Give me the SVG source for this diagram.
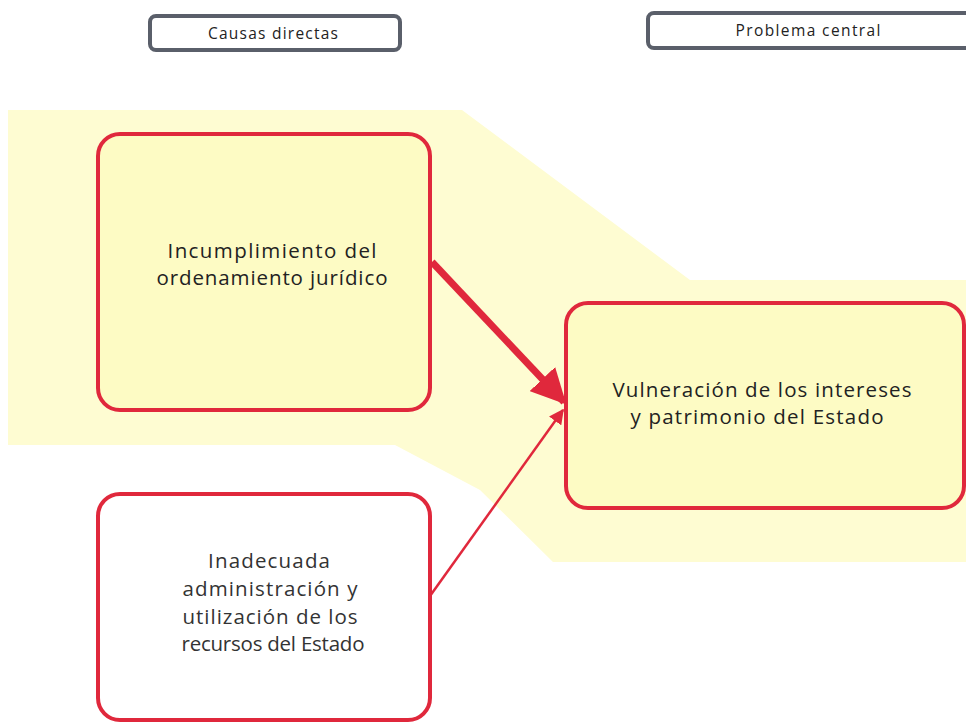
<svg xmlns="http://www.w3.org/2000/svg" width="966" height="724" viewBox="0 0 966 724">
<defs>
<style>
.hdr{fill:#fff;stroke:#5a5f6a;stroke-width:4}
.hdrt{font-family:"Open Sans","Liberation Sans",sans-serif;font-size:15.5px;fill:#222;text-anchor:middle}
.box{stroke:#e0283c;stroke-width:4}
.t{font-family:"Open Sans","Liberation Sans",sans-serif;font-size:20.5px;fill:#222;text-anchor:middle}
.t2{font-family:"Open Sans","Liberation Sans",sans-serif;font-size:20.5px;fill:#333;text-anchor:middle}
</style>
<marker id="ahBig" viewBox="0 0 10 10" refX="9" refY="5" markerWidth="5" markerHeight="5" orient="auto" markerUnits="strokeWidth">
<path d="M0,0 L10,5 L0,10 z" fill="#e0283c"/>
</marker>
<marker id="ahSmall" viewBox="0 0 10 10" refX="9" refY="5" markerWidth="6" markerHeight="6" orient="auto" markerUnits="strokeWidth">
<path d="M0,0 L10,5 L0,10 z" fill="#e0283c"/>
</marker>
</defs>
<rect width="966" height="724" fill="#fff"/>
<polygon id="highlight" points="8,110 462,110 690,280 966,280 966,562 553,562 480,490 395,445 8,445" fill="#fefcd2"/>
<g id="hdr-causas">
<rect class="hdr" x="150" y="16" width="250" height="34" rx="6"/>
<text class="hdrt" x="273" y="39" textLength="130" lengthAdjust="spacing">Causas directas</text>
</g>
<g id="hdr-problema">
<rect class="hdr" x="648" y="13" width="330" height="35" rx="6"/>
<text class="hdrt" x="808" y="36" textLength="145" lengthAdjust="spacing">Problema central</text>
</g>
<g id="n-incumplimiento">
<rect class="box" x="98" y="134" width="332" height="276" rx="22" fill="#fdfbc4"/>
<text class="t" x="272" y="258" textLength="209" lengthAdjust="spacing">Incumplimiento  del</text>
<text class="t" x="272" y="285" textLength="231" lengthAdjust="spacing">ordenamiento jurídico</text>
</g>
<g id="n-vulneracion">
<rect class="box" x="566" y="303" width="398" height="205" rx="22" fill="#fdfbc4"/>
<text class="t" x="762" y="397" textLength="299" lengthAdjust="spacing">Vulneración de los intereses</text>
<text class="t" x="757" y="424" textLength="253" lengthAdjust="spacing">y patrimonio del Estado</text>
</g>
<g id="n-inadecuada">
<rect class="box" x="98" y="494" width="332" height="226" rx="22" fill="#fff"/>
<text class="t2" x="269" y="568" textLength="122" lengthAdjust="spacing">Inadecuada</text>
<text class="t2" x="270" y="596" textLength="175" lengthAdjust="spacing">administración y</text>
<text class="t2" x="270" y="624" textLength="175" lengthAdjust="spacing">utilización de los</text>
<text class="t2" x="273" y="651" textLength="183" lengthAdjust="spacing">recursos del Estado</text>
</g>
<g id="connectors">
<line x1="432" y1="262" x2="564" y2="402" stroke="#e0283c" stroke-width="7" marker-end="url(#ahBig)"/>
<line x1="430" y1="596" x2="563" y2="410" stroke="#e0283c" stroke-width="2.5" marker-end="url(#ahSmall)"/>
</g>
</svg>
